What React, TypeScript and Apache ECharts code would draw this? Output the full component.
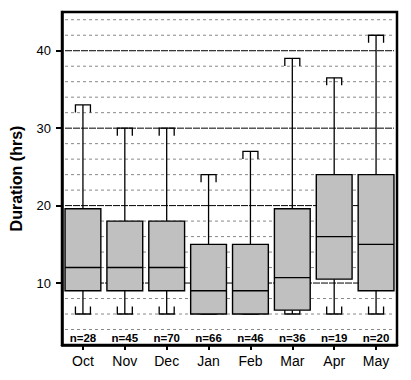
import React, { useEffect, useRef } from "react";
import * as echarts from "echarts";

const months = ["Oct", "Nov", "Dec", "Jan", "Feb", "Mar", "Apr", "May"];
const whiskerLow = [6, 6, 6, 6, 6, 6, 6, 6];
const q1 = [9, 9, 9, 6, 6, 6.5, 10.5, 9];
const median = [12, 12, 12, 9, 9, 10.7, 16, 15];
const q3 = [19.6, 18, 18, 15, 15, 19.6, 24, 24];
const whiskerHigh = [33, 30, 30, 24, 27, 39, 36.5, 42];
const counts = [28, 45, 70, 66, 46, 36, 19, 20];
const yTicks = [10, 20, 30, 40];
const gridValues = [4, 6, 8, 10, 12, 14, 16, 18, 20, 22, 24, 26, 28, 30, 32, 34, 36, 38, 40, 42, 44];

const FONT = "'Liberation Sans', Arial, Helvetica, sans-serif";

export default function App() {
  const ref = useRef<HTMLDivElement>(null);
  useEffect(() => {
    const chart = echarts.init(ref.current!, null, { renderer: "svg" });
    const boxData = months.map((_, i) => [i, whiskerLow[i], q1[i], median[i], q3[i], whiskerHigh[i], counts[i]]);
    const gridData = gridValues.map((v) => [0, v, yTicks.includes(v) ? 1 : 0]);
    chart.setOption({
      animation: false,
      grid: {
        left: 61,
        right: 14,
        top: 12,
        bottom: 35,
        show: true,
        borderColor: "#000",
        borderWidth: 2.5,
        backgroundColor: "transparent",
      },
      xAxis: {
        type: "category",
        data: months,
        boundaryGap: true,
        axisLine: { show: true, lineStyle: { color: "#000", width: 2.5 } },
        axisTick: { show: true, alignWithLabel: true, length: 5, lineStyle: { color: "#000", width: 2 } },
        axisLabel: { color: "#000", fontSize: 14, fontFamily: FONT, margin: 9 },
        splitLine: { show: false },
      },
      yAxis: {
        type: "value",
        min: 2,
        max: 45,
        interval: 2,
        name: "Duration (hrs)",
        nameLocation: "middle",
        nameGap: 38,
        nameTextStyle: { color: "#000", fontSize: 16, fontWeight: "bold", fontFamily: FONT },
        axisLine: { show: true, lineStyle: { color: "#000", width: 2.5 } },
        axisTick: { show: true, length: 6, customValues: yTicks, lineStyle: { color: "#000", width: 2 } },
        axisLabel: { color: "#000", fontSize: 13, fontFamily: FONT, margin: 11, customValues: yTicks },
        splitLine: { show: false },
      },
      series: [
        {
          type: "custom",
          z: 1,
          data: gridData,
          encode: { x: 0, y: 1 },
          silent: true,
          renderItem: (params: any, api: any) => {
            const cs = params.coordSys;
            const y = api.coord([0, api.value(1)])[1];
            const major = api.value(2) === 1;
            return {
              type: "line",
              shape: { x1: cs.x + 3, y1: y, x2: cs.x + cs.width - 3, y2: y },
              style: major
                ? { stroke: "#000", lineWidth: 1, lineDash: [7, 1] }
                : { stroke: "#888", lineWidth: 1, lineDash: [3, 3] },
            };
          },
        },
        {
          type: "custom",
          z: 3,
          data: boxData,
          encode: { x: 0, y: [1, 2, 3, 4, 5] },
          silent: true,
          renderItem: (params: any, api: any) => {
            const cs = params.coordSys;
            const idx = api.value(0);
            const band = api.size([1, 0])[0];
            const cx = api.coord([idx, 0])[0];
            const bw = band * 0.855;
            const capW = 15;
            const tick = 7.5;
            const yLow = api.coord([idx, api.value(1)])[1];
            const yQ1 = api.coord([idx, api.value(2)])[1];
            const yMed = api.coord([idx, api.value(3)])[1];
            const yQ3 = api.coord([idx, api.value(4)])[1];
            const yHigh = api.coord([idx, api.value(5)])[1];
            const ls = { stroke: "#000", lineWidth: 1.3 };
            return {
              type: "group",
              children: [
                { type: "line", shape: { x1: cx, y1: yHigh, x2: cx, y2: yQ3 }, style: ls },
                { type: "line", shape: { x1: cx, y1: yQ1, x2: cx, y2: yLow }, style: ls },
                {
                  type: "polyline",
                  shape: { points: [[cx - capW / 2, yHigh + tick], [cx - capW / 2, yHigh], [cx + capW / 2, yHigh], [cx + capW / 2, yHigh + tick]] },
                  style: { ...ls, fill: null },
                },
                {
                  type: "polyline",
                  shape: { points: [[cx - capW / 2, yLow - tick], [cx - capW / 2, yLow], [cx + capW / 2, yLow], [cx + capW / 2, yLow - tick]] },
                  style: { ...ls, fill: null },
                },
                {
                  type: "rect",
                  shape: { x: cx - bw / 2, y: yQ3, width: bw, height: yQ1 - yQ3 },
                  style: { fill: "#c0c0c0", stroke: "#000", lineWidth: 1.4 },
                },
                { type: "line", shape: { x1: cx - bw / 2, y1: yMed, x2: cx + bw / 2, y2: yMed }, style: { stroke: "#000", lineWidth: 1.4 } },
                {
                  type: "text",
                  x: cx,
                  y: cs.y + cs.height - 1,
                  style: {
                    text: "n=" + api.value(6),
                    fill: "#000",
                    font: "bold 11.5px " + FONT,
                    textAlign: "center",
                    textVerticalAlign: "bottom",
                  },
                },
              ],
            };
          },
        },
      ],
    });
    return () => chart.dispose();
  }, []);
  return <div ref={ref} style={{ position: "absolute", left: 0, top: 0, width: 411, height: 380 }} />;
}
